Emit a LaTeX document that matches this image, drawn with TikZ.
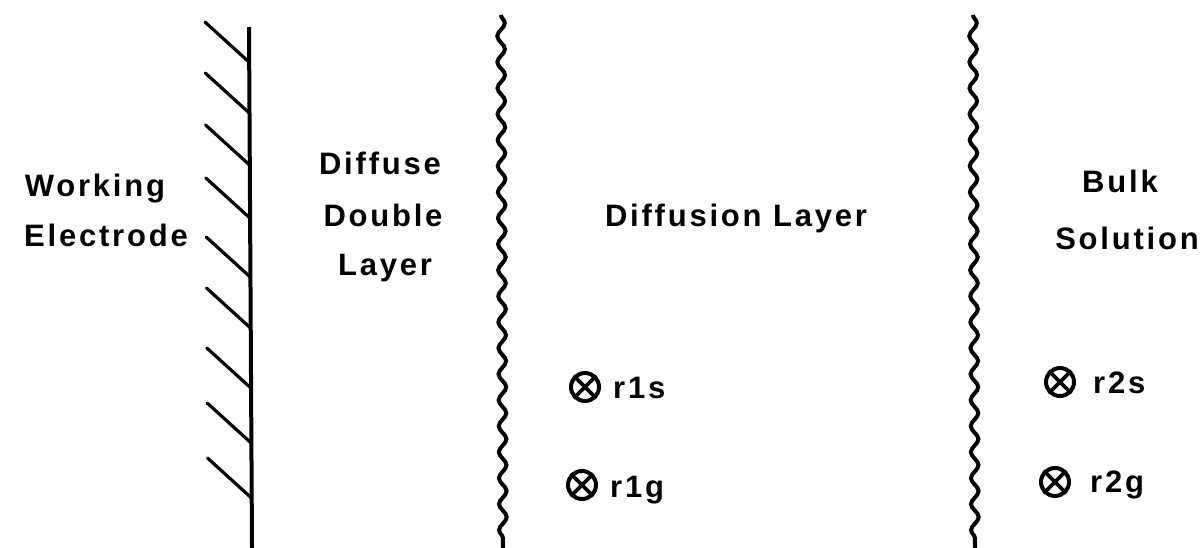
\documentclass[tikz,border=0pt]{standalone}
\usepackage{fontspec}
\setmainfont{Liberation Sans}[LetterSpace=9]
\usetikzlibrary{decorations.pathmorphing}
\begin{document}
\begin{tikzpicture}[x=1pt,y=-1pt,
  label/.style={font=\bfseries\fontsize{31}{36}\selectfont, inner sep=0pt, anchor=base},
  species/.style={font=\bfseries\fontsize{31}{36}\selectfont, inner sep=0pt, anchor=base west},
  marker/.style={circle, draw, line width=4pt, minimum size=28pt, inner sep=0pt},
  wall/.style={line width=4pt},
  hatch/.style={line width=3.2pt, line cap=round},
  boundary/.style={line width=4pt, decorate,
    decoration={snake, segment length=26pt, amplitude=3.8pt}}]
\useasboundingbox (0,0) rectangle (1202,548);

% electrode surface with hatching
\coordinate (wtop) at (249,27);
\coordinate (wbot) at (252,548);
\draw[wall] (wtop) -- (wbot);
\foreach \y in {62,113,165,218,277,328,388,443,498}
  \draw[hatch] (\y/520*3+248.6-44, \y-40) -- (\y/520*3+248.6, \y);

% wavy boundaries between the regions
\draw[boundary] (501,15) -- (503,548);
\draw[boundary] (973,15) -- (975,548);

% region labels
\node[label] (work) at (95,197) {Working};
\node[label] (elec) at (106,247) {Electrode};
\node[label] (dif1) at (380,175) {Diffuse};
\node[label] (dif2) at (383,227) {Double};
\node[label] (dif3) at (385,275) {Layer};
\node[label] (dlay) at (736,227) {Diffusion Layer};
\node[label] (bulk) at (1120,193) {Bulk};
\node[label] (soln) at (1127,250) {Solution};

% species markers
\foreach \n/\cx/\cy/\tx/\ty/\t in {
    m1s/585/387/613/398/r1s,
    m1g/582/485/610/497/r1g,
    m2s/1060/382/1093/393/r2s,
    m2g/1055/482/1090/492/r2g} {
  \node[marker] (\n) at (\cx,\cy) {};
  \draw[line width=3.6pt] (\n.north west) -- (\n.south east)
                          (\n.north east) -- (\n.south west);
  \node[species] (\n-t) at (\tx,\ty) {\t};
}
\end{tikzpicture}
\end{document}
